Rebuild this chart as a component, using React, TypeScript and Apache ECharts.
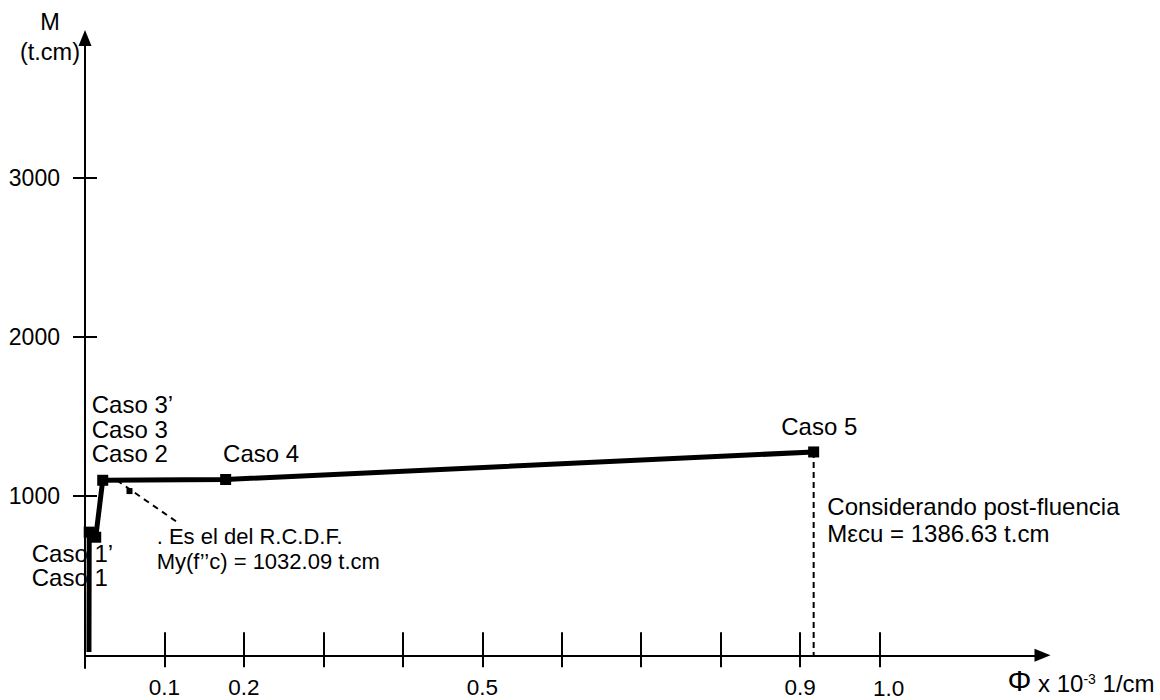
import { useEffect, useRef } from "react";
import * as echarts from "echarts";

// Moment–curvature curve: curvature Φ (x 10^-3 1/cm) against moment M (t.cm)
const startPhi = 0.005;
const startMoment = 20;
const casoPhi = [0.0053, 0.0135, 0.0223, 0.177, 0.917];
const casoMoment = [774, 742, 1100, 1105, 1278];
// Cases that share a spot are named together on one marker
const casoLabels = ["Caso 1’\nCaso 1", "", "Caso 3’\nCaso 3\nCaso 2", "Caso 4", "Caso 5"];

// Yield moment by R.C.D.F.
const yieldPhi = 0.056;
const yieldMoment = 1032.09;
const leaderPhi = [0.04, 0.116];
const leaderMoment = [1100, 837];

// Axis ticks and labels
const xTickValues = [0.1, 0.2, 0.3, 0.4, 0.5, 0.6, 0.7, 0.8, 0.9, 1.0];
const xLabelValues = [0.1, 0.2, 0.5, 0.9, 1.0];
const yTickValues = [1000, 2000, 3000];

const X_MIN = 0;
const X_MAX = 1.205;
const Y_MIN = -80;
const Y_MAX = 3880;

const FONT = "'Liberation Sans', Arial, Helvetica, sans-serif";
const INK = "#000";

// label placement for each caso marker, relative to the marker box
const casoLabelPlacement: [number, number][] = [
  [-52, 38.9],
  [0, 0],
  [-5.5, -45.3],
  [2.9, -20.7],
  [-26.9, -19.7],
];

export default function App() {
  const ref = useRef<HTMLDivElement>(null);

  useEffect(() => {
    if (!ref.current) return;
    const chart = echarts.init(ref.current, undefined, { renderer: "svg" });

    const gridTop = 38;
    const gridBottom = 32;
    const plotH = 700 - gridTop - gridBottom;
    const zeroOffset = -((0 - Y_MIN) / (Y_MAX - Y_MIN)) * plotH;

    const curveData = [[startPhi, startMoment]].concat(
      casoPhi.map((p, i) => [p, casoMoment[i]])
    );

    const casoData = casoPhi.map((p, i) => ({
      value: [p, casoMoment[i]],
      label: {
        show: casoLabels[i] !== "",
        formatter: casoLabels[i],
        position: casoLabelPlacement[i],
        align: "left",
        verticalAlign: "middle",
        fontSize: 24,
        lineHeight: 24.5,
        fontFamily: FONT,
        color: INK,
        opacity: 1,
      },
    }));

    const lineStyleAxis = { color: INK, width: 2 };

    chart.setOption({
      animation: false,
      backgroundColor: "#fff",
      textStyle: { fontFamily: FONT, color: INK },
      grid: {
        left: 85,
        right: 117.5,
        top: gridTop,
        bottom: gridBottom,
        containLabel: false,
        outerBoundsMode: "none",
      },
      xAxis: [
        {
          type: "value",
          min: X_MIN,
          max: X_MAX,
          position: "bottom",
          offset: zeroOffset,
          axisLine: {
            show: true,
            onZero: false,
            symbol: ["none", "triangle"],
            symbolSize: [13, 16],
            lineStyle: lineStyleAxis,
          },
          axisTick: {
            show: true,
            inside: true,
            length: 23,
            customValues: xTickValues,
            lineStyle: lineStyleAxis,
          },
          axisLabel: {
            show: true,
            customValues: xLabelValues,
            formatter: (v: number) => (v === 1 ? "{last|1.0}" : v.toFixed(1)),
            margin: 32,
            fontSize: 22.5,
            lineHeight: 19,
            verticalAlign: "middle",
            fontFamily: FONT,
            color: INK,
            rich: {
              last: {
                fontSize: 22.5,
                lineHeight: 17,
                fontFamily: FONT,
                color: INK,
                padding: [2, 0, 0, 18],
              },
            },
          },
          splitLine: { show: false },
          name: "{phi|Φ}{t| x 10}{sup|-3}{t| 1/cm}",
          nameLocation: "end",
          nameGap: -35,
          nameTextStyle: {
            align: "left",
            verticalAlign: "top",
            padding: [8, 0, 0, 0],
            rich: {
              phi: { fontSize: 30, lineHeight: 32, verticalAlign: "bottom", fontFamily: FONT, color: INK },
              t: { fontSize: 24, lineHeight: 28, verticalAlign: "bottom", fontFamily: FONT, color: INK },
              sup: {
                fontSize: 14,
                lineHeight: 14,
                verticalAlign: "top",
                padding: [9, 0, 0, 0],
                fontFamily: FONT,
                color: INK,
              },
            },
          },
        },
        {
          type: "value",
          min: X_MIN,
          max: X_MAX,
          position: "bottom",
          offset: zeroOffset,
          axisLine: { show: false, onZero: false },
          axisTick: {
            show: true,
            inside: false,
            length: 12,
            customValues: xTickValues,
            lineStyle: lineStyleAxis,
          },
          axisLabel: { show: false },
          splitLine: { show: false },
        },
      ],
      yAxis: [
        {
          type: "value",
          min: Y_MIN,
          max: Y_MAX,
          position: "left",
          axisLine: {
            show: true,
            onZero: false,
            symbol: ["none", "triangle"],
            symbolSize: [13, 16],
            lineStyle: lineStyleAxis,
          },
          axisTick: {
            show: true,
            inside: true,
            length: 12,
            customValues: yTickValues,
            lineStyle: lineStyleAxis,
          },
          axisLabel: {
            show: true,
            customValues: yTickValues,
            formatter: (v: number) => String(v),
            margin: 25,
            fontSize: 23,
            fontFamily: FONT,
            color: INK,
          },
          splitLine: { show: false },
          name: "M\n(t.cm)",
          nameLocation: "end",
          nameGap: 1,
          nameTextStyle: {
            align: "center",
            verticalAlign: "middle",
            padding: [0, 70, 0, 0],
            fontSize: 23.5,
            lineHeight: 30,
            fontFamily: FONT,
            color: INK,
          },
        },
        {
          type: "value",
          min: Y_MIN,
          max: Y_MAX,
          position: "left",
          axisLine: { show: false, onZero: false },
          axisTick: {
            show: true,
            inside: false,
            length: 12,
            customValues: yTickValues,
            lineStyle: lineStyleAxis,
          },
          axisLabel: { show: false },
          splitLine: { show: false },
        },
      ],
      series: [
        {
          name: "curva",
          type: "line",
          data: curveData,
          symbol: "none",
          lineStyle: { color: INK, width: 5, join: "round" },
          z: 3,
        },
        {
          name: "casos",
          type: "scatter",
          data: casoData,
          symbol: "rect",
          symbolSize: 11,
          itemStyle: { color: INK, opacity: 1 },
          z: 2,
        },
        {
          name: "fluencia",
          type: "scatter",
          data: [[yieldPhi, yieldMoment]],
          symbol: "rect",
          symbolSize: 6,
          itemStyle: { color: INK, opacity: 1 },
          z: 4,
        },
        {
          name: "guia",
          type: "line",
          data: leaderPhi.map((p, i) => [p, leaderMoment[i]]),
          symbol: "none",
          lineStyle: { color: INK, width: 2, type: [6, 5] },
          z: 4,
        },
        {
          name: "ultimo",
          type: "line",
          data: [
            [casoPhi[4], casoMoment[4]],
            [casoPhi[4], 0],
          ],
          symbol: "none",
          lineStyle: { color: INK, width: 2, type: [6, 4] },
          z: 1,
        },
      ],
      graphic: [
        {
          type: "text",
          x: 156.7,
          y: 549,
          style: {
            text: ". Es el del R.C.D.F.\nMy(f’’c) = 1032.09 t.cm",
            fontSize: 22,
            fontFamily: FONT,
            lineHeight: 25,
            fill: INK,
            align: "left",
            verticalAlign: "middle",
          },
        },
        {
          type: "text",
          x: 827.3,
          y: 519.7,
          style: {
            text: "Considerando post-fluencia\nMεcu = 1386.63 t.cm",
            fontSize: 24,
            fontFamily: FONT,
            lineHeight: 27,
            fill: INK,
            align: "left",
            verticalAlign: "middle",
          },
        },
      ],
    });

    return () => chart.dispose();
  }, []);

  return (
    <div
      ref={ref}
      style={{ position: "fixed", left: 0, top: 0, width: 1160, height: 700, background: "#fff" }}
    />
  );
}
